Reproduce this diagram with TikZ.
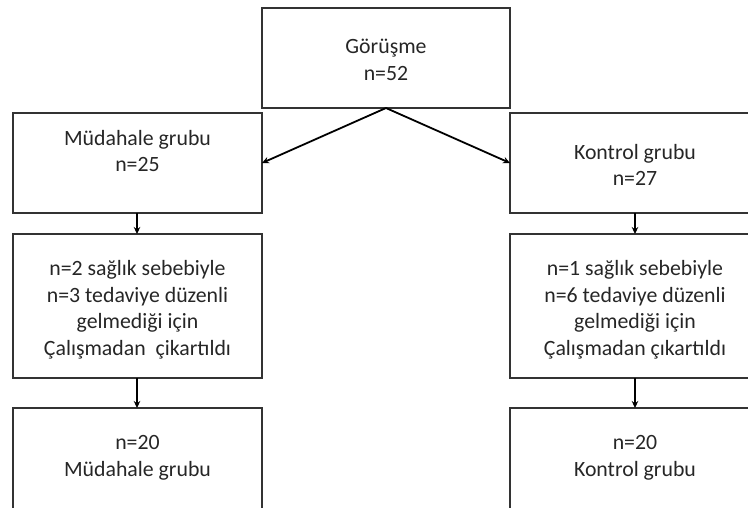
\documentclass[tikz,border=0pt]{standalone}
\usepackage{fontspec}
\setmainfont{Carlito}
\usetikzlibrary{arrows.meta}
\begin{document}
\begin{tikzpicture}[x=1pt,y=-1pt,
  box/.style={draw=black!80, line width=1.3pt, rectangle, inner sep=0pt, outer sep=0pt, anchor=north west},
  txt/.style={align=center, inner sep=0pt, text=black!85, font=\fontsize{21.8}{26.5}\selectfont},
  arr/.style={draw=black, line width=1.8pt, -{Stealth[length=7pt,width=6.5pt]}}]
\useasboundingbox (0,0) rectangle (748,507);
\clip (0,0) rectangle (748,507);
% boxes
\node[box, minimum width=248pt, minimum height=100pt] (top) at (262,8) {};
\node[box, minimum width=249pt, minimum height=100pt] (L1) at (13,113) {};
\node[box, minimum width=250pt, minimum height=100pt] (R1) at (510,113) {};
\node[box, minimum width=249pt, minimum height=144pt] (L2) at (13,234) {};
\node[box, minimum width=250pt, minimum height=144pt] (R2) at (510,234) {};
\node[box, minimum width=249pt, minimum height=140pt] (L3) at (13,408) {};
\node[box, minimum width=250pt, minimum height=140pt] (R3) at (510,408) {};
% texts
\node[txt] (ttop) at (386,60) {Görüşme\\n=52};
\node[txt] (tL1) at (137.5,151) {Müdahale grubu\\n=25};
\node[txt] (tR1) at (635,165) {Kontrol grubu\\n=27};
\node[txt] (tL2) at (137.5,310) {n=2 sağlık sebebiyle\\n=3 tedaviye düzenli\\gelmediği için\\Çalışmadan\ \ çikartıldı};
\node[txt] (tR2) at (635,310) {n=1 sağlık sebebiyle\\n=6 tedaviye düzenli\\gelmediği için\\Çalışmadan çıkartıldı};
\node[txt] (tL3) at (137.5,458) {n=20\\Müdahale grubu};
\node[txt] (tR3) at (635,458) {n=20\\Kontrol grubu};
% connector anchor points
\coordinate (c1) at ([xshift=-0.5pt]L1.south);
\coordinate (c2) at ([xshift=-0.5pt]L2.north);
\coordinate (c3) at ([xshift=-0.5pt]L2.south);
\coordinate (c4) at ([xshift=-0.5pt]L3.north);
% arrows
\draw[arr] (top.south) -- (L1.east);
\draw[arr] (top.south) -- (R1.west);
\draw[arr] (c1) -- (c2);
\draw[arr] (R1.south) -- (R2.north);
\draw[arr] (c3) -- (c4);
\draw[arr] (R2.south) -- (R3.north);
\end{tikzpicture}
\end{document}
